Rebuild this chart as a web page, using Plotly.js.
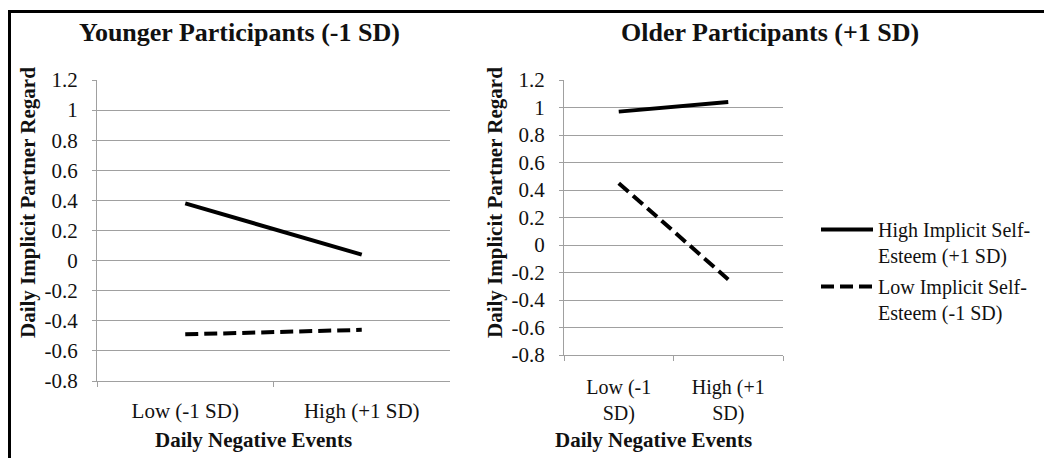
<!DOCTYPE html>
<html>
<head>
<meta charset="utf-8">
<script src="https://cdn.plot.ly/plotly-3.0.1.min.js"></script>
<style>html,body{margin:0;padding:0;background:#fff;}#chart{width:1044px;height:458px;}</style>
</head>
<body>
<div id="chart"></div>
<script>
// ---- data ----
var categories = ["Low (-1 SD)", "High (+1 SD)"];
var rightTickText = ["Low (-1<br>SD)", "High (+1<br>SD)"];
var youngerHigh = [0.38, 0.04];
var youngerLow = [-0.49, -0.46];
var olderHigh = [0.97, 1.04];
var olderLow = [0.45, -0.25];
var seriesNames = ["High Implicit Self-<br>Esteem (+1 SD)", "Low Implicit Self-<br>Esteem (-1 SD)"];
var yTickVals = [-0.8, -0.6, -0.4, -0.2, 0, 0.2, 0.4, 0.6, 0.8, 1, 1.2];
var yTickText = ["-0.8", "-0.6", "-0.4", "-0.2", "0", "0.2", "0.4", "0.6", "0.8", "1", "1.2"];
var panelTitles = ["Younger Participants (-1 SD)", "Older Participants (+1 SD)"];
var xTitle = "Daily Negative Events";
var yTitle = "Daily Implicit Partner Regard";

var W = 1044, H = 458;
function px(x) { return x / W; }
function py(y) { return (H - y) / H; }

var FONT = "Liberation Serif";
var solid = {color: "#000", width: 4};
var dashed = {color: "#000", width: 4, dash: "13px,6px"};

var traces = [
  {x: categories, y: youngerHigh, type: "scatter", mode: "lines", line: solid, name: seriesNames[0], xaxis: "x", yaxis: "y", legendgroup: "a"},
  {x: categories, y: youngerLow, type: "scatter", mode: "lines", line: dashed, name: seriesNames[1], xaxis: "x", yaxis: "y", legendgroup: "b"},
  {x: categories, y: olderHigh, type: "scatter", mode: "lines", line: solid, name: seriesNames[0], xaxis: "x2", yaxis: "y2", showlegend: false, legendgroup: "a"},
  {x: categories, y: olderLow, type: "scatter", mode: "lines", line: dashed, name: seriesNames[1], xaxis: "x2", yaxis: "y2", showlegend: false, legendgroup: "b"}
];

var grid = "#a0a0a0";
function yax(dom, anchor) {
  return {
    domain: dom, anchor: anchor, range: [-0.8, 1.2], tickmode: "array", tickvals: yTickVals, ticktext: yTickText,
    showgrid: true, gridcolor: grid, gridwidth: 1, zeroline: false,
    showline: true, linecolor: grid, linewidth: 1,
    ticks: "outside", ticklen: 4, tickcolor: grid, ticklabelstandoff: 10,
    tickfont: {family: FONT, size: 21, color: "#111"}, fixedrange: true
  };
}
function xax(dom, anchor, ticktext, standoff, size) {
  var a = {
    domain: dom, type: "category", range: [-0.5, 1.5], anchor: anchor,
    showgrid: false, zeroline: false, showline: true, linecolor: grid, linewidth: 1,
    ticks: "outside", ticklen: 5, tickcolor: grid, tickson: "boundaries",
    tickfont: {family: FONT, size: size, color: "#111"}, ticklabelstandoff: standoff, fixedrange: true
  };
  if (ticktext) { a.tickmode = "array"; a.tickvals = categories; a.ticktext = ticktext; }
  return a;
}

function ann(text, x, y, size, angle) {
  return {text: "<b>" + text + "</b>", x: px(x), y: py(y), xref: "paper", yref: "paper",
    showarrow: false, xanchor: "center", yanchor: "middle", textangle: angle || 0,
    font: {family: FONT, size: size, color: "#111"}};
}

var layout = {
  width: W, height: H, margin: {l: 0, r: 0, t: 0, b: 0},
  paper_bgcolor: "#fff", plot_bgcolor: "#fff", showlegend: true,
  xaxis: xax([px(97), px(450)], "y", null, 11, 21),
  yaxis: yax([py(381), py(80)], "x"),
  xaxis2: xax([px(564), px(783)], "y2", rightTickText, 14, 20),
  yaxis2: yax([py(355), py(80)], "x2"),
  legend: {x: px(816), y: py(210), xanchor: "left", yanchor: "top", valign: "top",
    font: {family: FONT, size: 20, color: "#111"}, itemwidth: 52, tracegroupgap: 2, bgcolor: "rgba(0,0,0,0)"},
  annotations: [
    ann(panelTitles[0], 239, 32, 26),
    ann(panelTitles[1], 770, 32, 26),
    ann(yTitle, 28, 203, 21, -90),
    ann(yTitle, 495, 203, 21, -90),
    ann(xTitle, 253, 440, 21),
    ann(xTitle, 653, 440, 21)
  ],
  shapes: [
    {type: "line", xref: "paper", yref: "paper", x0: px(8), x1: 1, y0: py(11.5), y1: py(11.5), line: {color: "#000", width: 3}},
    {type: "line", xref: "paper", yref: "paper", x0: px(9.5), x1: px(9.5), y0: 0, y1: py(10), line: {color: "#000", width: 3}}
  ]
};

Plotly.newPlot("chart", traces, layout, {displayModeBar: false, staticPlot: true});
</script>
</body>
</html>
